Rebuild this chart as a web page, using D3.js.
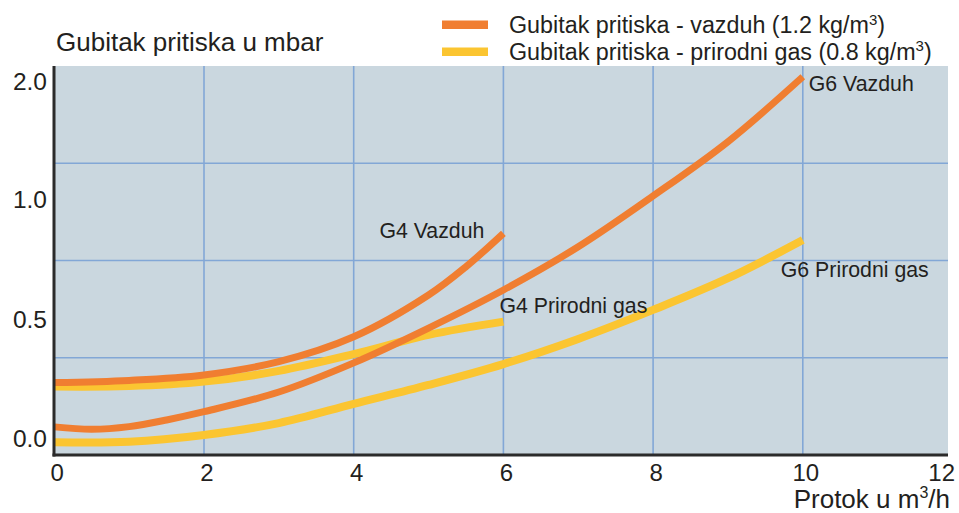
<!DOCTYPE html>
<html>
<head>
<meta charset="utf-8">
<script src="https://cdn.jsdelivr.net/npm/d3@7"></script>
<style>
  html, body { margin: 0; padding: 0; background: #fff; }
  svg { display: block; font-family: "Liberation Sans", Arial, Helvetica, sans-serif; }
</style>
</head>
<body>
<svg id="chart" width="959" height="513"></svg>
<script>
// ---- data ----
const xTicks = [0, 2, 4, 6, 8, 10, 12];
const yTicks = [0.0, 0.5, 1.0, 2.0];
const yTickLabels = ["0.0", "0.5", "1.0", "2.0"];

const g6VazduhX = [0, 0.5, 1, 1.5, 2, 3, 4, 5, 6, 7, 8, 9, 10];
const g6VazduhY = [0.047, 0.037, 0.048, 0.076, 0.111, 0.194, 0.317, 0.464, 0.623, 0.803, 1.030, 1.491, 2.042];

const g4VazduhX = [0, 1, 2, 3, 4, 5, 5.5, 6];
const g4VazduhY = [0.234, 0.243, 0.266, 0.322, 0.427, 0.602, 0.720, 0.859];

const g4GasX = [0, 1, 2, 3, 4, 5, 6];
const g4GasY = [0.217, 0.219, 0.238, 0.283, 0.354, 0.435, 0.491];

const g6GasX = [0, 1, 2, 3, 4, 5, 6, 7, 8, 9, 10];
const g6GasY = [-0.018, -0.016, 0.013, 0.063, 0.144, 0.224, 0.312, 0.418, 0.540, 0.672, 0.831];

const legendLabels = ["Gubitak pritiska - vazduh (1.2 kg/m", "Gubitak pritiska - prirodni gas (0.8 kg/m"];
const seriesNames = ["G6 Vazduh", "G4 Vazduh", "G4 Prirodni gas", "G6 Prirodni gas"];
const titleText = "Gubitak pritiska u mbar";
const xTitleText = "Protok u m";

// ---- layout ----
const W = 959, H = 513;
const plot = { left: 54, top: 66, right: 948, bottom: 455 };
const ORANGE = "#F07E31", YELLOW = "#FBC531", BG = "#CAD7DF", GRID = "#82A7D6", AXIS = "#2b2b2b", TEXT = "#231f20";

const svg = d3.select("#chart");

const x = d3.scaleLinear().domain([0, 12]).range([54.3, 952.5]);
// the chart's value axis is not linear: piecewise scale through the labelled values
const y = d3.scaleLinear().domain(yTicks).range([438, 319.5, 199.5, 81.7]);

// plot background
svg.append("rect")
  .attr("x", plot.left).attr("y", plot.top)
  .attr("width", plot.right - plot.left).attr("height", plot.bottom - plot.top)
  .attr("fill", BG);

// grid
const grid = svg.append("g").attr("stroke", GRID).attr("stroke-width", 1.6);
grid.selectAll("line.v").data(xTicks.filter(d => d > 0 && d < 12)).join("line")
  .attr("x1", d => x(d)).attr("x2", d => x(d))
  .attr("y1", plot.top).attr("y2", plot.bottom);
const hBands = d3.range(1, 4);
grid.selectAll("line.h").data(hBands).join("line")
  .attr("x1", plot.left).attr("x2", plot.right)
  .attr("y1", i => plot.top + i * (plot.bottom - plot.top) / 4)
  .attr("y2", i => plot.top + i * (plot.bottom - plot.top) / 4);

// curves
svg.append("clipPath").attr("id", "clip").append("rect")
  .attr("x", plot.left).attr("y", plot.top)
  .attr("width", plot.right - plot.left).attr("height", plot.bottom - plot.top);

const line = d3.line().x(d => x(d[0])).y(d => y(d[1])).curve(d3.curveCatmullRom.alpha(0.5));
const series = [
  { xs: g6GasX, ys: g6GasY, color: YELLOW, w: 8 },
  { xs: g4GasX, ys: g4GasY, color: YELLOW, w: 8 },
  { xs: g6VazduhX, ys: g6VazduhY, color: ORANGE, w: 7 },
  { xs: g4VazduhX, ys: g4VazduhY, color: ORANGE, w: 7 }
];
const curves = svg.append("g").attr("clip-path", "url(#clip)");
curves.selectAll("path").data(series).join("path")
  .attr("d", s => line(s.xs.map((v, i) => [v, s.ys[i]])))
  .attr("fill", "none")
  .attr("stroke", s => s.color)
  .attr("stroke-width", s => s.w)
  .attr("stroke-linecap", "butt");

// axis lines
svg.append("line").attr("x1", plot.left).attr("x2", plot.left)
  .attr("y1", plot.top).attr("y2", plot.bottom + 1.5)
  .attr("stroke", AXIS).attr("stroke-width", 3);
svg.append("line").attr("x1", plot.left - 1.5).attr("x2", plot.right)
  .attr("y1", plot.bottom).attr("y2", plot.bottom)
  .attr("stroke", AXIS).attr("stroke-width", 3);

// tick labels
svg.append("g").selectAll("text").data(yTicks).join("text")
  .attr("x", 47).attr("y", d => y(d) + 8.7)
  .attr("text-anchor", "end")
  .attr("font-size", 24.5).attr("fill", TEXT)
  .text((d, i) => yTickLabels[i]);

svg.append("g").selectAll("text").data(xTicks).join("text")
  .attr("x", d => d === 12 ? W - 4 : x(d) + 3)
  .attr("y", 481)
  .attr("text-anchor", d => d === 12 ? "end" : "middle")
  .attr("font-size", 24).attr("fill", TEXT)
  .text(d => d);

// titles
svg.append("text").attr("x", 56).attr("y", 51)
  .attr("font-size", 26).attr("fill", TEXT).text(titleText);

const xt = svg.append("text").attr("x", 950).attr("y", 508)
  .attr("text-anchor", "end").attr("font-size", 26).attr("fill", TEXT);
xt.append("tspan").text(xTitleText);
xt.append("tspan").attr("font-size", 16).attr("dy", -10).text("3");
xt.append("tspan").attr("dy", 10).text("/h");

// legend
const legend = svg.append("g");
const legendColors = [ORANGE, YELLOW];
legendColors.forEach((c, i) => {
  legend.append("rect").attr("x", 442).attr("y", 20.5 + i * 27).attr("width", 46).attr("height", 8.5).attr("fill", c);
  const t = legend.append("text").attr("x", 509).attr("y", 33 + i * 26.5)
    .attr("font-size", 23.3).attr("fill", TEXT);
  t.append("tspan").text(legendLabels[i]);
  t.append("tspan").attr("font-size", 15).attr("dy", -8.5).text("3");
  t.append("tspan").attr("dy", 8.5).text(")");
});

// series annotations
const ann = [
  { name: seriesNames[0], x: 10, y: 2.042, dx: 6, dy: 14, anchor: "start" },
  { name: seriesNames[1], x: 6, y: 0.859, dx: -19, dy: 5, anchor: "end" },
  { name: seriesNames[2], x: 6, y: 0.491, dx: -4, dy: -9, anchor: "start" },
  { name: seriesNames[3], x: 10, y: 0.831, dx: -22, dy: 37, anchor: "start" }
];
svg.append("g").selectAll("text").data(ann).join("text")
  .attr("x", d => x(d.x) + d.dx).attr("y", d => y(d.y) + d.dy)
  .attr("text-anchor", d => d.anchor)
  .attr("font-size", 21.3).attr("fill", TEXT)
  .text(d => d.name);
</script>
</body>
</html>
